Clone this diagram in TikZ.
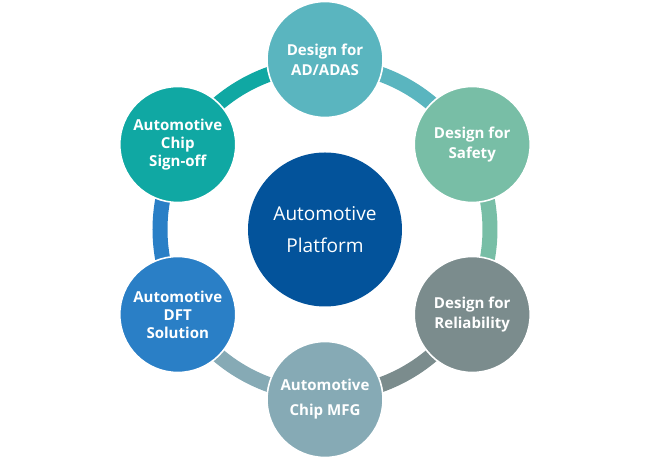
\documentclass[tikz,border=0pt]{standalone}
\usepackage{fontspec}
\setmainfont{Open Sans}
\definecolor{cSign}{HTML}{10A8A3}
\definecolor{cAdas}{HTML}{5AB5BF}
\definecolor{cSafe}{HTML}{78BEA6}
\definecolor{cRel}{HTML}{7B8C8D}
\definecolor{cMfg}{HTML}{86AAB5}
\definecolor{cDft}{HTML}{2A7FC6}
\definecolor{cHub}{HTML}{03539B}
\begin{document}
\begin{tikzpicture}[x=0.75pt, y=0.75pt,
		item/.style={circle, draw=white, line width=1.2pt, minimum size=87pt, inner sep=0pt, text=white, align=center, font=\fontsize{11.3}{13.5}\selectfont\bfseries},
		hub/.style={circle, fill=cHub, minimum size=115.5pt, inner sep=0pt, text=white, align=center, font=\fontsize{14.3}{24}\selectfont},
		ring/.style={line width=11.25pt}]
		\useasboundingbox (-325,-229.5) rectangle (325,229.5);
		% ring under the circles
		\coordinate (r90) at (90:165);
		\coordinate (r30) at (30:165);
		\coordinate (r-30) at (-30:165);
		\coordinate (r-90) at (-90:165);
		\coordinate (r-150) at (-150:165);
		\coordinate (r150) at (150:165);
		\draw[ring, cSign] (r150) arc[start angle=150, end angle=90, radius=165];
		\draw[ring, cAdas] (r90) arc[start angle=90, end angle=30, radius=165];
		\draw[ring, cSafe] (r30) arc[start angle=30, end angle=-30, radius=165];
		\draw[ring, cRel] (r-30) arc[start angle=-30, end angle=-90, radius=165];
		\draw[ring, cMfg] (r-90) arc[start angle=-90, end angle=-150, radius=165];
		\draw[ring, cDft] (r-150) arc[start angle=-150, end angle=-210, radius=165];
		% circles
		\node[hub] (platform) at (0,0) {Automotive\\Platform};
		\node[item, fill=cAdas, font=\fontsize{11.3}{15}\selectfont\bfseries] (adas) at (90:170) {Design for\\AD/ADAS};
		\node[item, fill=cSafe, font=\fontsize{11.3}{15}\selectfont\bfseries] (safety) at (30:170) {Design for\\Safety};
		\node[item, fill=cRel, font=\fontsize{11.3}{15}\selectfont\bfseries] (reliab) at (-30:170) {Design for\\Reliability};
		\node[item, fill=cMfg, font=\fontsize{11.3}{18.75}\selectfont\bfseries] (mfg) at (-90:170) {Automotive\\Chip MFG};
		\node[item, fill=cDft] (dft) at (-150:170) {Automotive\\DFT\\Solution};
		\node[item, fill=cSign] (signoff) at (150:170) {Automotive\\Chip\\Sign-off};
	\end{tikzpicture}
\end{document}
